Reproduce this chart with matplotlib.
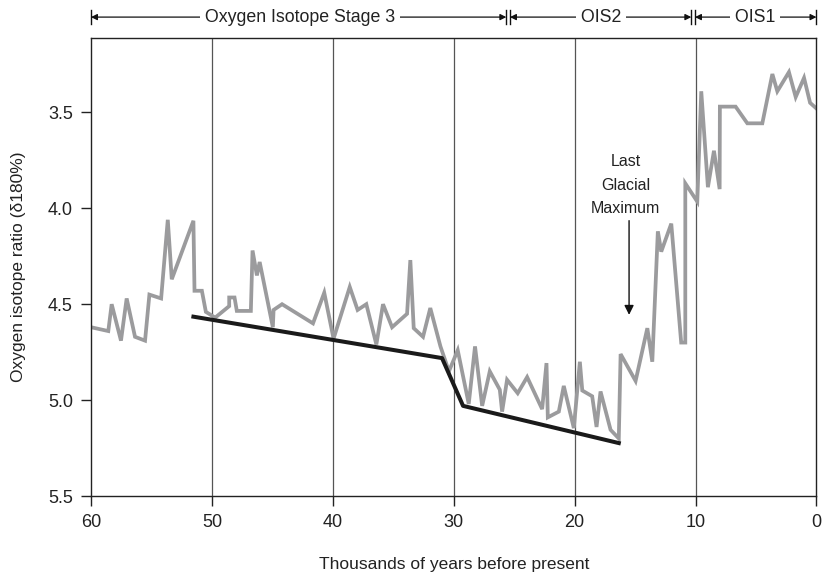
import matplotlib
matplotlib.use('Agg')
import matplotlib.pyplot as plt
import matplotlib.transforms as mtransforms

plt.rcParams['font.family'] = ['Liberation Sans', 'DejaVu Sans']

# oxygen isotope record (thousands of years BP, delta 18O)
age = [60.0, 58.57, 58.29, 57.52, 57.05, 56.36, 55.53, 55.17, 54.2, 53.65,
       53.32, 51.53, 51.44, 50.83, 50.5, 49.73, 48.57, 48.57, 48.13, 47.94,
       46.78, 46.64, 46.28, 46.05, 44.96, 44.9, 44.2, 41.64, 40.71, 39.94,
       38.6, 37.95, 37.23, 36.4, 35.85, 35.1, 33.86, 33.59, 33.31, 32.54,
       31.94, 31.1, 30.4, 29.67, 28.76, 28.24, 27.65, 27.02, 26.19, 26.0,
       25.59, 24.71, 23.93, 22.69, 22.33, 22.22, 21.31, 20.9, 20.07, 19.57,
       19.37, 18.55, 18.19, 17.86, 17.03, 16.35, 16.2, 14.96, 13.99, 13.58,
       13.12, 12.84, 12.01, 11.19, 10.85, 10.85, 9.86, 9.53, 8.98, 8.48,
       8.01, 7.99, 6.69, 5.72, 4.48, 3.65, 3.24, 2.28, 1.72, 1.03,
       0.53, 0.0]
ratio = [4.62, 4.64, 4.50, 4.69, 4.47, 4.67, 4.69, 4.45, 4.47, 4.06,
         4.37, 4.065, 4.43, 4.43, 4.54, 4.57, 4.51, 4.465, 4.465, 4.535,
         4.535, 4.22, 4.35, 4.28, 4.62, 4.53, 4.50, 4.60, 4.44, 4.68,
         4.41, 4.53, 4.50, 4.71, 4.50, 4.62, 4.55, 4.27, 4.625, 4.67,
         4.52, 4.72, 4.85, 4.74, 5.02, 4.72, 5.03, 4.85, 4.946, 5.06,
         4.894, 4.964, 4.88, 5.047, 4.807, 5.09, 5.06, 4.926, 5.146, 4.80,
         4.95, 4.98, 5.14, 4.955, 5.155, 5.20, 4.76, 4.90, 4.625, 4.80,
         4.12, 4.226, 4.08, 4.70, 4.70, 3.87, 3.965, 3.39, 3.89, 3.70,
         3.90, 3.47, 3.47, 3.557, 3.557, 3.30, 3.39, 3.29, 3.42, 3.32,
         3.45, 3.48]

# trend line
trend_age = [51.53, 30.97, 29.23, 16.35]
trend_ratio = [4.565, 4.781, 5.03, 5.224]

# isotope stages (label, older bound, younger bound)
stage_names = ['Oxygen Isotope Stage 3', 'OIS2', 'OIS1']
stage_start = [60.0, 25.5, 10.2]
stage_end = [25.5, 10.2, 0.0]

grid_x = [50, 40, 30, 20, 10]
xticks = [60, 50, 40, 30, 20, 10, 0]
yticks = [3.5, 4.0, 4.5, 5.0, 5.5]

fig = plt.figure(figsize=(8.22, 5.87), dpi=100)
ax = fig.add_axes([0.1107, 0.155, 0.8826, 0.780])

for gx in grid_x:
    ax.axvline(gx, color='#555555', lw=0.9, zorder=1)

ax.plot(age, ratio, color='#9b9b9d', lw=2.7, solid_joinstyle='miter', zorder=2)
ax.plot(trend_age, trend_ratio, color='#1a1a1a', lw=2.9, zorder=3)

ax.set_xlim(60, 0)
ax.set_ylim(5.5, 3.113)
ax.set_xticks(xticks)
ax.set_xticklabels([str(t) for t in xticks])
ax.set_yticks(yticks)
ax.set_yticklabels(['%.1f' % t for t in yticks])
ax.tick_params(direction='out', length=7, width=1, labelsize=13, pad=6,
               color='#222222', labelcolor='#222222')
for s in ax.spines.values():
    s.set_linewidth(1)
    s.set_color('#222222')

ax.set_xlabel('Thousands of years before present', fontsize=12.5,
              color='#222222', labelpad=19)
ax.set_ylabel('Oxygen isotope ratio (\u03b4180%)', fontsize=12.5,
              color='#222222', labelpad=16)

# last glacial maximum note
ax.text(15.8, 3.88, 'Last\nGlacial\nMaximum', ha='center', va='center',
        fontsize=11.5, color='#222222', linespacing=1.7)
ax.annotate('', xy=(15.5, 4.57), xytext=(15.5, 4.05),
            arrowprops=dict(arrowstyle='-|>', color='#111111', lw=1,
                            mutation_scale=14))

# stage brackets above the plot
trans = mtransforms.blended_transform_factory(ax.transData, ax.transAxes)
hy = 1.046
gap = 0.15
for name, a, b in zip(stage_names, stage_start, stage_end):
    left = a - gap if a < 60 else a
    right = b + gap if b > 0 else b
    mid = (a + b) / 2
    ax.text(mid, hy, ' ' + name + ' ', transform=trans, ha='center',
            va='center', fontsize=12.8, color='#222222',
            bbox=dict(facecolor='white', edgecolor='none', pad=0), zorder=5)
    for tip, tail in [(left, mid), (right, mid)]:
        ax.annotate('', xy=(tip, hy), xytext=(tail, hy), xycoords=trans,
                    textcoords=trans, annotation_clip=False,
                    arrowprops=dict(arrowstyle='-|>', color='#111111',
                                    lw=0.9, mutation_scale=9,
                                    shrinkA=0, shrinkB=0), zorder=4)
    for end in (left, right):
        ax.plot([end, end], [hy - 0.016, hy + 0.016], transform=trans,
                color='#111111', lw=1, clip_on=False)

fig.savefig('out.png', dpi=100)
